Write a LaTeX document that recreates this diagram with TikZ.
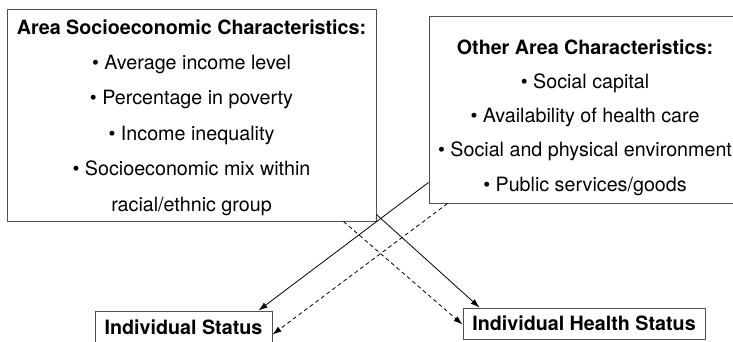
\documentclass[tikz,border=0pt]{standalone}
\usepackage{fontspec}
\setmainfont{TeX Gyre Heros}
\usetikzlibrary{arrows.meta,positioning}
\definecolor{boxgray}{HTML}{505050}
\tikzset{
  areabox/.style={draw=boxgray, line width=1pt, inner sep=0pt},
  areatext/.style={align=center, inner sep=0pt, font=\fontsize{19.7}{35.4}\selectfont},
  statbox/.style={draw=boxgray, line width=1pt, inner sep=0pt, minimum height=32pt, font=\bfseries\fontsize{19.7}{22}\selectfont},
  effect/.style={-{Latex[length=9pt,width=6pt]}, line width=0.8pt},
  ctxeffect/.style={effect, dash pattern=on 4pt off 3pt},
}
\begin{document}
\begin{tikzpicture}[x=1pt,y=-1pt]
  \useasboundingbox (0,0) rectangle (733,341);
  \node[areabox, minimum width=369pt, minimum height=212pt] (area) at (191.5,115) {};
  \node[areatext] (areatxt) at (191.5,117.4) {{\bfseries\fontsize{19.7}{35.4}\selectfont Area Socioeconomic Characteristics:}\\
    \textbullet{} Average income level\\
    \textbullet{} Percentage in poverty\\
    \textbullet{} Income inequality\\
    \textbullet{} Socioeconomic mix within\\
    racial/ethnic group};
  \node[areabox, minimum width=312pt, minimum height=187pt] (other) at (585,109.5) {};
  \node[areatext, font=\fontsize{19.7}{34.25}\selectfont] (othertxt) at (585,117.4) {{\bfseries\fontsize{19.7}{34.25}\selectfont Other Area Characteristics:}\\
    \textbullet{} Social capital\\
    \textbullet{} Availability of health care\\
    \textbullet{} Social and physical environment\\
    \textbullet{} Public services/goods};
  \node[statbox, minimum width=177pt] (indiv) at (183.5,327) {Individual Status};
  \node[statbox, minimum width=242pt, minimum height=31pt] (health) at (584,323.5) {Individual Health Status};
  \draw[effect] ([yshift=21pt]other.south west) -- ([xshift=-14pt]indiv.north east);
  \draw[ctxeffect] ([xshift=19pt]other.south west) -- ([yshift=-24pt]indiv.north east);
  \draw[effect] ([yshift=7pt]area.south east) -- ([xshift=17pt]health.north west);
  \draw[ctxeffect] ([xshift=-33pt]area.south east) -- ([yshift=-17pt]health.north west);
\end{tikzpicture}
\end{document}
